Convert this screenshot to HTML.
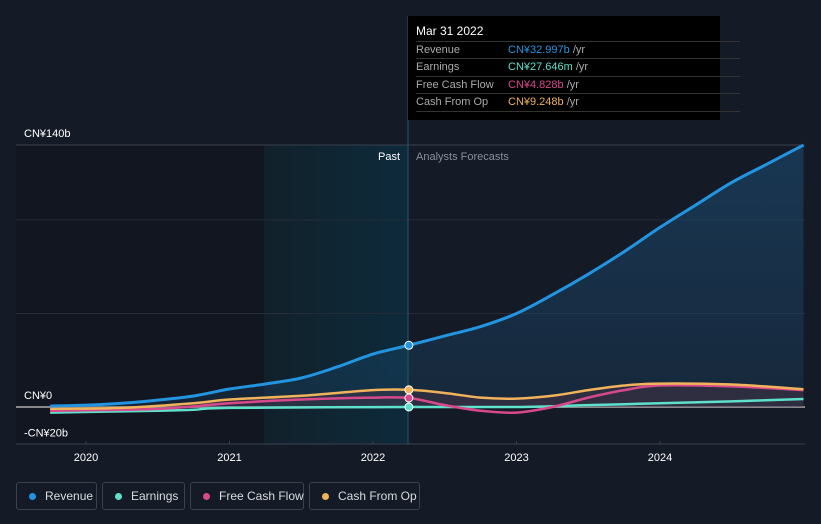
<!DOCTYPE html>
<html><head><meta charset="utf-8"><style>
body{margin:0;background:#151b26;font-family:"Liberation Sans",sans-serif;}
#wrap{position:relative;width:821px;height:524px;overflow:hidden;background:#151b26;}
svg text{font-family:"Liberation Sans",sans-serif;}
.leg{position:absolute;top:482px;height:28px;border:1px solid #3a4150;border-radius:3px;box-sizing:border-box;color:#d8dbe0;font-size:12px;line-height:26px;padding:0 0 0 28px;white-space:nowrap;}
.leg span{position:absolute;left:12px;top:10px;width:7px;height:7px;border-radius:50%;}
#tip{position:absolute;left:408px;top:16px;width:312px;height:104px;background:#000;color:#fff;font-size:11px;}
#tip .r{position:absolute;left:8px;width:324px;height:17px;line-height:17px;border-top:1px solid #333;color:#aaa;white-space:nowrap;}
#tip .r b{position:absolute;left:92px;font-weight:normal;}
</style></head><body>
<div id="wrap">
<svg id="svg" width="821" height="524">
<defs>
<linearGradient id="pastg" x1="0" x2="1" y1="0" y2="0"><stop offset="0" stop-color="#0f2530" stop-opacity="0.6"/><stop offset="1" stop-color="#0d2b3c"/></linearGradient>
<linearGradient id="revg" x1="0" x2="0" y1="0" y2="1"><stop offset="0" stop-color="#1b4e78" stop-opacity="0.55"/><stop offset="1" stop-color="#1b4e78" stop-opacity="0.25"/></linearGradient>
</defs>
<rect x="16" y="145" width="248" height="299" fill="#121620"/>
<rect x="264" y="145" width="144" height="299" fill="url(#pastg)"/>
<g id="grid"></g>
<g id="series"></g>
<line x1="408" y1="16" x2="408" y2="444" stroke="#1d5b70" stroke-width="1"/>
<text x="400" y="160" fill="#fff" font-size="11" text-anchor="end">Past</text>
<text x="416" y="160" fill="#8a909a" font-size="11">Analysts Forecasts</text>
<g id="dots"></g>
</svg>
<div id="tip">
<div style="position:absolute;left:8px;top:8px;font-size:12px">Mar 31 2022</div>
<div class="r" style="top:25px">Revenue<b style="color:#2394df">CN¥32.997b <span style="color:#aaa">/yr</span></b></div>
<div class="r" style="top:42px">Earnings<b style="color:#5fe0cb">CN¥27.646m <span style="color:#aaa">/yr</span></b></div>
<div class="r" style="top:60px">Free Cash Flow<b style="color:#d8498c">CN¥4.828b <span style="color:#aaa">/yr</span></b></div>
<div class="r" style="top:77px">Cash From Op<b style="color:#f0b25a">CN¥9.248b <span style="color:#aaa">/yr</span></b></div>
<div class="r" style="top:95px;height:0"></div>
</div>
<div class="leg" style="left:16px;width:81px"><span style="background:#2394df"></span>Revenue</div>
<div class="leg" style="left:102px;width:83px"><span style="background:#5fe0cb"></span>Earnings</div>
<div class="leg" style="left:190px;width:114px"><span style="background:#d8498c"></span>Free Cash Flow</div>
<div class="leg" style="left:309px;width:111px"><span style="background:#f0b25a"></span>Cash From Op</div>
</div>
<script>
const revT=[2019.75,2020,2020.25,2020.5,2020.75,2021,2021.25,2021.5,2021.75,2022,2022.25,2022.5,2022.75,2023,2023.25,2023.5,2023.75,2024,2024.25,2024.5,2024.75,2025];
const revV=[0.5,1,2,3.7,5.9,9.6,12.3,15.5,21.4,28.3,33,38,43,50,60,71,83,96,108,120,130,140];
const earnT=[2019.75,2020.5,2020.75,2021,2022.25,2023,2023.5,2024,2024.5,2025];
const earnV=[-3,-2,-1.5,-0.5,0,0,1,2,3,4.3];
const fcfT=[2019.75,2020.5,2021,2021.5,2022,2022.25,2022.5,2022.75,2023,2023.25,2023.5,2023.75,2024,2024.5,2025];
const fcfV=[-2,-1,2,4,5,4.8,1,-2,-3,0,5,9,11.5,11,9];
const cfoT=[2019.75,2020.25,2020.75,2021,2021.5,2022,2022.25,2022.5,2022.75,2023,2023.25,2023.5,2023.75,2024,2024.5,2025];
const cfoV=[-1,-0.5,2,4,6,9,9.2,7.5,5,4.5,6,9,11.5,12.5,12,9.5];
const yTicks=[140,0,-20];
const yLabels=["CN¥140b","CN¥0","-CN¥20b"];
const gridVals=[140,100,50];
const xTicks=[2020,2021,2022,2023,2024];
const nowT=2022.25;
const X=t=>86+(t-2020)*143.5;
const Y=v=>407-v*1.871;
const NS='http://www.w3.org/2000/svg';
function mk(tag,attrs,parent){const e=document.createElementNS(NS,tag);for(const k in attrs)e.setAttribute(k,attrs[k]);parent.appendChild(e);return e;}
const grid=document.getElementById('grid'),ser=document.getElementById('series'),dots=document.getElementById('dots');
gridVals.forEach(v=>{const l=mk('line',{x1:16,x2:805,y1:Y(v),y2:Y(v),stroke:v==140?'#3a404c':'#252c38'},grid);

});
const zl=mk('line',{x1:16,x2:805,y1:Y(0),y2:Y(0),stroke:'#888',"stroke-width":2},grid);


const ax=mk('line',{x1:16,x2:805,y1:444,y2:444,stroke:'#3a404c'},grid);


yTicks.forEach((v,i)=>{const t=mk('text',{x:24,y:Y(v)-8,fill:'#fff','font-size':11},grid);t.textContent=yLabels[i];

});
xTicks.forEach(v=>{const l=mk('line',{x1:X(v),x2:X(v),y1:441,y2:444,stroke:'#3a404c'},grid);


const t=mk('text',{x:X(v),y:461,fill:'#fff','font-size':11,'text-anchor':'middle'},grid);t.textContent=v;

});
function path(T,V){const p=T.map((t,i)=>[X(t),Y(V[i])]);let d='M'+p[0][0]+','+p[0][1];
for(let i=0;i<p.length-1;i++){const p0=p[i-1]||p[i],p1=p[i],p2=p[i+1],p3=p[i+2]||p2;
d+=' C'+(p1[0]+(p2[0]-p0[0])/6)+','+(p1[1]+(p2[1]-p0[1])/6)+' '+(p2[0]-(p3[0]-p1[0])/6)+','+(p2[1]-(p3[1]-p1[1])/6)+' '+p2[0]+','+p2[1];}return d;}
function interp(T,V,t){for(let i=0;i<T.length-1;i++)if(t>=T[i]&&t<=T[i+1])return V[i]+(V[i+1]-V[i])*(t-T[i])/(T[i+1]-T[i]);return V[V.length-1];}
const rd=path(revT,revV);
const ra=mk('path',{d:rd+' L'+X(revT[revT.length-1])+','+Y(0)+' L'+X(revT[0])+','+Y(0)+'Z',fill:'url(#revg)'},ser);


const cd=path(cfoT,cfoV);
const ca=mk('path',{d:cd+' L'+X(cfoT[cfoT.length-1])+','+Y(0)+' L'+X(cfoT[0])+','+Y(0)+'Z',fill:'#5a3a4a',opacity:0.35},ser);


const S=[[earnT,earnV,'#5fe0cb','earnings-line'],[fcfT,fcfV,'#d8498c','free-cash-flow-line'],[cfoT,cfoV,'#f0b25a','cash-from-op-line'],[revT,revV,'#2394df','revenue-line']];
S.forEach(s=>{const e=mk('path',{d:path(s[0],s[1]),fill:'none',stroke:s[2],'stroke-width':s[3]=='revenue-line'?3:2.5},ser);


const c=mk('circle',{cx:X(nowT),cy:Y(interp(s[0],s[1],nowT)),r:4,fill:s[2],stroke:'#fff','stroke-width':1},dots);

});
</script>
</body></html>
